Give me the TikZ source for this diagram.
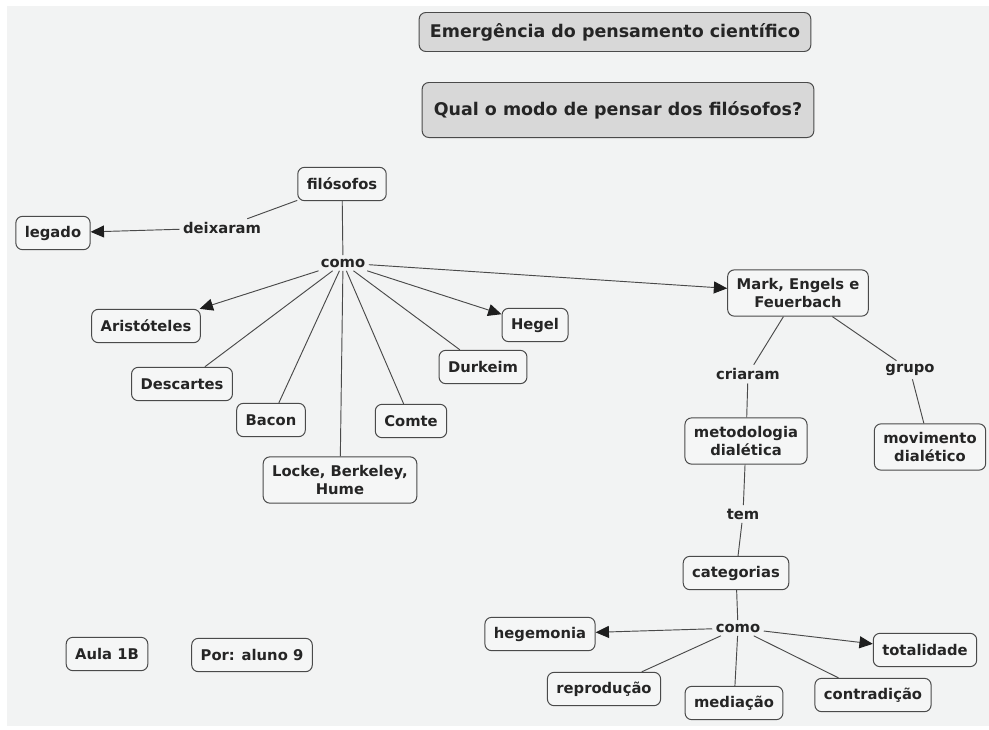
\documentclass[tikz,border=0pt]{standalone}
\usepackage{fontspec}
\setmainfont{DejaVu Sans}
\usetikzlibrary{arrows.meta,shapes}
\definecolor{bgcol}{HTML}{F2F3F3}
\definecolor{boxcol}{HTML}{F5F6F6}
\definecolor{titlecol}{HTML}{D8D8D8}
\definecolor{linecol}{HTML}{4A4A4A}
\definecolor{tipcol}{HTML}{1E1E1E}
\definecolor{txtcol}{HTML}{252525}
\tikzstyle{concept}=[rectangle,rounded corners=0.2cm,draw=linecol,fill=boxcol,line width=0.85pt,inner xsep=0.27cm,inner ysep=0.25cm,minimum height=1cm,align=center,text=txtcol,font=\bfseries\fontsize{12.6}{15.5}\selectfont]
\tikzstyle{titlebox}=[concept,fill=titlecol,minimum width=11.75cm,font=\bfseries\fontsize{14.9}{17}\selectfont]
\tikzstyle{linkword}=[inner sep=0.1cm,text=txtcol,font=\bfseries\fontsize{12.6}{15.5}\selectfont]
\tikzstyle{edge} = [draw=linecol,line width=0.8pt,-{Triangle[length=0.4cm,width=0.36cm,color=tipcol]}]
\tikzstyle{undirectededge} = [draw=linecol,line width=0.8pt]

\begin{document}
\begin{tikzpicture}[x=0.03cm,y=-0.03cm]
\useasboundingbox (0,0) rectangle (989,729);
\fill[white] (0,0) rectangle (989,729);
\fill[bgcol] (7,6) rectangle (989,726);

% Titles
\node[titlebox,minimum height=1.17cm] (emerg) at (615,32) {Emergência do pensamento científico};
\node[titlebox,minimum height=1.65cm] (qual) at (618,110) {Qual o modo de pensar dos filósofos?};

% Concepts
\foreach \pos/\name/\txt in {{(342,184)/filo/filósofos}, {(53,233)/legado/legado}, {(146,326)/arist/Aristóteles},
    {(182,384)/desc/Descartes}, {(271,420)/bacon/Bacon}, {(411,421)/comte/Comte}, {(483,367)/durk/Durkeim},
    {(535,325)/hegel/Hegel}, {(736,573)/categ/categorias}, {(540,634)/hegem/hegemonia},
    {(925,650)/total/totalidade}, {(604,689)/repro/reprodução}, {(734,703)/media/mediação},
    {(873,695)/contra/contradição}, {(107,654)/aula/Aula 1B}, {(252,655)/autor/Por: aluno 9}}
    \node[concept] (\name) at \pos {\txt};

\node[concept] (locke) at (340,480) {Locke, Berkeley,\\Hume};
\node[concept] (mark) at (798,293) {Mark, Engels e\\Feuerbach};
\node[concept] (metod) at (746,441) {metodologia\\dialética};
\node[concept] (movim) at (930,447) {movimento\\dialético};

% Linking words
\foreach \pos/\name/\txt in {{(222,228)/deix/deixaram}, {(343,263)/comoA/como}, {(748,374)/criar/criaram},
    {(910,370)/grupo/grupo}, {(743,514)/tem/tem}, {(738,628)/comoB/como}}
    \node[linkword] (\name) at \pos {\txt};

% Connections
\foreach \source/ \dest in {filo/deix, filo/comoA, comoA/desc, comoA/bacon, comoA/locke, comoA/comte, comoA/durk,
    mark/criar, criar/metod, mark/grupo, grupo/movim, metod/tem, tem/categ, categ/comoB,
    comoB/repro, comoB/media, comoB/contra}
    \path[undirectededge] (\source) -- (\dest);

\foreach \source/ \dest in {deix/legado, comoA/arist, comoA/hegel, comoA/mark, comoB/hegem, comoB/total}
    \path[edge] (\source) -- (\dest);

\end{tikzpicture}
\end{document}
